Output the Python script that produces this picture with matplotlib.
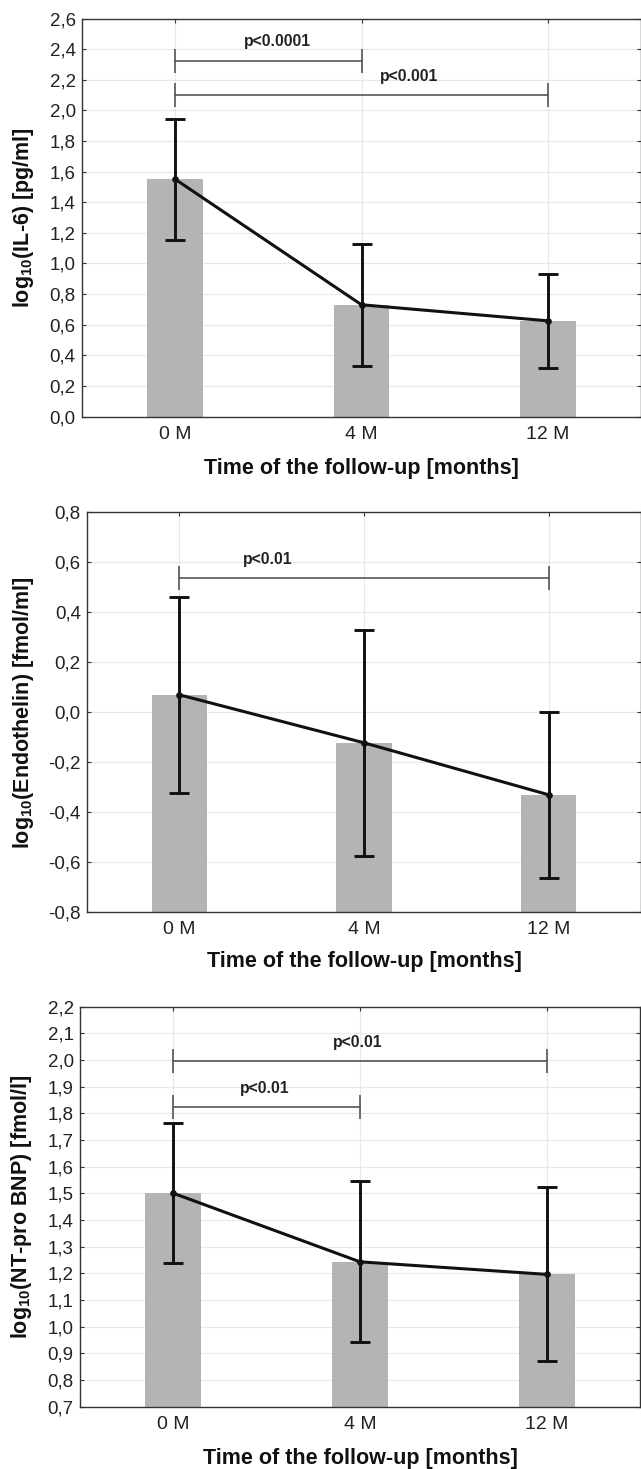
import matplotlib
matplotlib.use("Agg")
import matplotlib.pyplot as plt
from matplotlib.ticker import FuncFormatter, MultipleLocator

plt.rcParams['font.family'] = ['Liberation Sans', 'DejaVu Sans']
plt.rcParams['mathtext.fontset'] = 'custom'
plt.rcParams['mathtext.rm'] = 'Liberation Sans'
plt.rcParams['mathtext.bf'] = 'Liberation Sans:bold'
plt.rcParams['mathtext.default'] = 'bf'

# ---------------- data ----------------
timepoints = ["0 M", "4 M", "12 M"]
xlabel_text = "Time of the follow-up [months]"

il6_label = r"log$_{10}$(IL-6) [pg/ml]"
il6_mean = [1.55, 0.73, 0.625]
il6_sd = [0.395, 0.398, 0.308]
il6_ylim = (0.0, 2.6)
il6_step = 0.2
il6_pvals = ["p<0.0001", "p<0.001"]
il6_pairs = [(0, 1), (0, 2)]
il6_bracket_y = [2.325, 2.098]

endo_label = r"log$_{10}$(Endothelin) [fmol/ml]"
endo_mean = [0.07, -0.122, -0.33]
endo_sd = [0.393, 0.453, 0.333]
endo_ylim = (-0.8, 0.8)
endo_step = 0.2
endo_pvals = ["p<0.01"]
endo_pairs = [(0, 2)]
endo_bracket_y = [0.538]

bnp_label = r"log$_{10}$(NT-pro BNP) [fmol/l]"
bnp_mean = [1.50, 1.243, 1.196]
bnp_sd = [0.263, 0.302, 0.326]
bnp_ylim = (0.7, 2.2)
bnp_step = 0.1
bnp_pvals = ["p<0.01", "p<0.01"]
bnp_pairs = [(0, 2), (0, 1)]
bnp_bracket_y = [1.996, 1.824]

# ---------------- layout ----------------
W, H = 641, 1469
fig = plt.figure(figsize=(W / 100, H / 100), dpi=100)


def px_axes(left, top, right, bottom):
    return fig.add_axes([left / W, 1 - bottom / H, (right - left) / W, (bottom - top) / H])


panels = [
    dict(box=(82, 18.5, 641, 416.5), label=il6_label, mean=il6_mean, sd=il6_sd,
         ylim=il6_ylim, step=il6_step, pvals=il6_pvals, pairs=il6_pairs,
         by=il6_bracket_y, lab_x=[0.547, 1.255], ylab_x=-0.105, xlab_y=-0.130),
    dict(box=(87, 512.3, 641, 912.3), label=endo_label, mean=endo_mean, sd=endo_sd,
         ylim=endo_ylim, step=endo_step, pvals=endo_pvals, pairs=endo_pairs,
         by=endo_bracket_y, lab_x=[0.48], ylab_x=-0.114, xlab_y=-0.124),
    dict(box=(80, 1006.5, 640, 1406.7), label=bnp_label, mean=bnp_mean, sd=bnp_sd,
         ylim=bnp_ylim, step=bnp_step, pvals=bnp_pvals, pairs=bnp_pairs,
         by=bnp_bracket_y, lab_x=[0.99, 0.49], ylab_x=-0.105, xlab_y=-0.129),
]

bar_color = "#b4b4b4"
fmt = FuncFormatter(lambda v, p: f"{v:.1f}".replace(".", ",").replace("-0,0", "0,0"))

for P in panels:
    ax = px_axes(*P["box"])
    x = list(range(len(timepoints)))
    ymin, ymax = P["ylim"]
    ax.set_xlim(-0.5, 2.5)
    ax.set_ylim(ymin, ymax)
    ax.set_axisbelow(True)
    ax.grid(True, color="#e8e8e8", lw=0.8)

    ax.bar(x, [m - ymin for m in P["mean"]], bottom=ymin, width=0.30,
           color=bar_color, edgecolor="none", zorder=2)
    ax.errorbar(x, P["mean"], yerr=P["sd"], fmt="none", ecolor="#111111",
                elinewidth=2.1, capsize=7.5, capthick=2.1, zorder=4)
    ax.plot(x, P["mean"], color="#111111", lw=2.2, marker="o", ms=3.8, zorder=5)

    for (a, b), yb, txt, lx in zip(P["pairs"], P["by"], P["pvals"], P["lab_x"]):
        ax.plot([a, b], [yb, yb], color="#555555", lw=1.2, marker="|",
                ms=17, mew=1.2, zorder=3)
        ax.annotate(txt, xy=(lx, yb), xytext=(0, 13.5), textcoords="offset points",
                    ha="center", va="center", fontsize=11.3, fontweight="bold",
                    color="#222222")

    ax.set_xticks(x)
    ax.set_xticklabels(timepoints)
    ax.yaxis.set_major_locator(MultipleLocator(P["step"]))
    ax.yaxis.set_major_formatter(fmt)
    ax.tick_params(direction="in", length=3, width=0.8, color="#333333",
                   top=True, right=True, labelsize=13.5, labelcolor="#222222")
    ax.tick_params(axis="x", pad=6.5, labelsize=14)
    ax.tick_params(axis="y", pad=4.5)
    for s in ax.spines.values():
        s.set_color("#333333")
        s.set_linewidth(1.0)

    ax.set_ylabel(P["label"], fontsize=15.5, fontweight="bold", va="center",
                  color="#111111")
    ax.yaxis.set_label_coords(P["ylab_x"], 0.5)
    ax.set_xlabel(xlabel_text, fontsize=15.5, fontweight="bold", va="center",
                  color="#111111")
    ax.xaxis.set_label_coords(0.5, P["xlab_y"])

fig.savefig("out.png", dpi=100)
